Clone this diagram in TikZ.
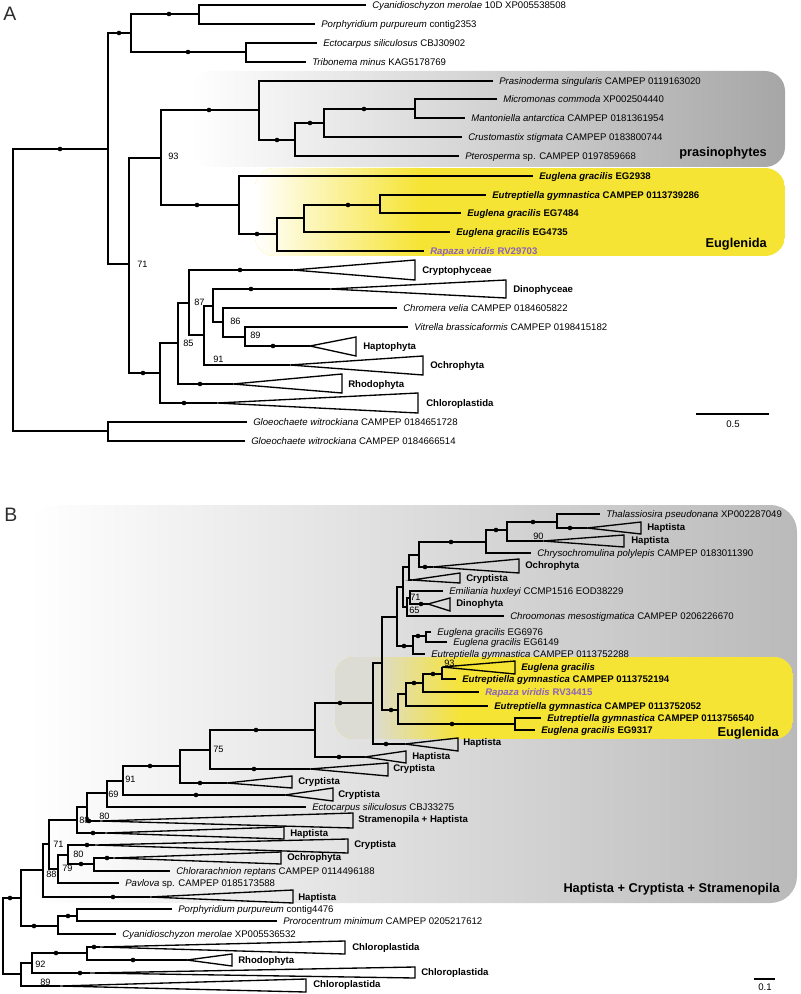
\documentclass[tikz,border=0pt]{standalone}
\usepackage{fontspec}
\setmainfont{Liberation Sans}
\definecolor{yel}{RGB}{246,228,52}
\definecolor{grA}{RGB}{166,166,166}
\definecolor{grB}{RGB}{186,186,186}
\definecolor{bgmix}{RGB}{220,219,212}
\definecolor{purp}{RGB}{138,96,192}
\definecolor{pl}{RGB}{45,45,45}
\newcommand\fsT{\fontsize{7.2}{8}\selectfont}
\newcommand\fsS{\fontsize{6.9}{8}\selectfont}
\newcommand\fsL{\fontsize{9.6}{11}\selectfont\bfseries}
\newcommand\Cl[5]{\draw[br] (#4,#2) -| (#1,#3) -- (#5,#3);}
\newcommand\Dt[2]{\fill (#1,#2) circle (2.3);}
\newcommand\Tr[5]{\draw[br,line join=miter] (#1,#2) -- (#3,#4) -- (#3,#5) -- cycle;}
\newcommand\Lf[3]{\node[lab] at (#1,{#2+3.4}) {#3};}
\newcommand\Gl[3]{\node[glab] at (#1,{#2+3.4}) {#3};}
\newcommand\Sv[3]{\node[sup] at (#1,#2) {#3};}
\newcommand\Eb[1]{\textbf{#1}}
\begin{document}
\begin{tikzpicture}[x=0.75pt,y=-0.75pt,
  br/.style={line width=1pt},
  lab/.style={anchor=base west,inner sep=0pt,font=\fsT},
  glab/.style={anchor=base west,inner sep=0pt,font=\fsT\bfseries},
  sup/.style={anchor=base west,inner sep=0pt,font=\fsS},
  big/.style={anchor=base east,inner sep=0pt,font=\fsL}]
\useasboundingbox (0,0) rectangle (800,994);
% ---------------- Panel A backgrounds
\shade[left color=white,right color=grA,rounded corners=15] (190,71) rectangle (785,167);
\begin{scope}
\clip[rounded corners=15] (255,168) rectangle (785,256);
\fill[yel] (255,168) rectangle (785,256);
\shade[left color=white,right color=yel] (255,168) rectangle (420,256);
\end{scope}
\node[anchor=base west,inner sep=0pt,font=\fontsize{14.6}{16}\selectfont,text=pl] (labA) at (3,21) {A};
% ---------------- Panel A tree
\Cl{13}{149}{431}{108}{108}\Dt{60}{149}
\Cl{108}{33}{264}{131}{129}\Dt{119}{33}\Sv{137}{268}{71}
\Cl{131}{14}{52}{199}{246}\Dt{169}{14}\Dt{188}{52}
\Cl{199}{5}{24}{366}{315}
\Lf{372}{5}{\textit{Cyanidioschyzon merolae} 10D XP005538508}
\Lf{321}{24}{\textit{Porphyridium purpureum} contig2353}
\Cl{246}{43}{62}{317}{306}
\Lf{323}{43}{\textit{Ectocarpus siliculosus} CBJ30902}
\Lf{312}{62}{\textit{Tribonema minus} KAG5178769}
\Cl{129}{158}{373}{161}{160}\Dt{143}{373}
\Cl{161}{110}{205}{259}{239}\Dt{209}{110}\Dt{197}{205}\Sv{168}{160}{93}
\Cl{259}{81}{140}{493}{295}\Dt{277}{140}
\Lf{499}{81}{\textit{Prasinoderma singularis} CAMPEP 0119163020}
\Cl{295}{123}{156}{324}{459}\Dt{310}{123}
\Lf{465}{156}{\textit{Pterosperma} sp. CAMPEP 0197859668}
\Cl{324}{109}{137}{415}{462}\Dt{364}{109}
\Lf{468}{137}{\textit{Crustomastix stigmata} CAMPEP 0183800744}
\Cl{415}{99}{118}{497}{465}
\Lf{503}{99}{\textit{Micromonas commoda} XP002504440}
\Lf{471}{118}{\textit{Mantoniella antarctica} CAMPEP 0181361954}
\node[big] (prasA) at (767,157) {prasinophytes};
\Cl{239}{176}{234}{533}{277}\Dt{257}{234}
\Lf{539}{176}{\Eb{\textit{Euglena gracilis} EG2938}}
\Cl{277}{218}{251}{304}{424}
\Lf{430}{251}{\textcolor{purp}{\Eb{\textit{Rapaza viridis} RV29703}}}
\Cl{304}{205}{232}{380}{450}\Dt{348}{205}
\Lf{456}{232}{\Eb{\textit{Euglena gracilis} EG4735}}
\Cl{380}{195}{213}{486}{461}
\Lf{492}{195}{\Eb{\textit{Eutreptiella gymnastica} CAMPEP 0113739286}}
\Lf{467}{213}{\Eb{\textit{Euglena gracilis} EG7484}}
\node[big] (eugA) at (767,248) {Euglenida};
\Cl{160}{343}{403}{178}{217}\Dt{184}{403}\Tr{217}{403}{418}{393}{413}\Gl{426}{403}{Chloroplastida}
\Cl{178}{303}{384}{189}{233}\Dt{200}{384}\Tr{233}{384}{342}{374}{393}\Gl{348}{384}{Rhodophyta}\Sv{183}{346.5}{85}
\Cl{189}{270}{335}{293}{204}\Dt{240}{270}\Tr{293}{270}{415}{260}{280}\Gl{422}{270}{Cryptophyceae}\Sv{194}{305.5}{87}
\Cl{204}{306}{365}{213}{290}\Tr{290}{365}{423}{356}{375}\Gl{430}{365}{Ochrophyta}\Sv{213}{363}{91}
\Cl{213}{289}{322}{330}{223}\Dt{251}{289}\Tr{330}{289}{506}{280}{298}\Gl{513}{289}{Dinophyceae}
\Cl{223}{308}{337}{397}{245}\Sv{230}{325}{86}
\Lf{403}{308}{\textit{Chromera velia} CAMPEP 0184605822}
\Cl{245}{327}{346}{408}{310}\Sv{250}{339}{89}
\Lf{414}{327}{\textit{Vitrella brassicaformis} CAMPEP 0198415182}
\Dt{273}{346}\Tr{310}{346}{356}{337}{356}\Gl{363}{346}{Haptophyta}
\Cl{108}{422}{441}{247}{245}
\Lf{253}{422}{\textit{Gloeochaete witrockiana} CAMPEP 0184651728}
\Lf{251}{441}{\textit{Gloeochaete witrockiana} CAMPEP 0184666514}
\draw[br] (696,414) -- (769,414);
\node[anchor=base,inner sep=0pt,font=\fsT] (scA) at (733,427) {0.5};
% ---------------- Panel B backgrounds
\shade[left color=white,right color=grB,rounded corners=20] (30,505) rectangle (797,903);
\begin{scope}
\clip[rounded corners=14] (335,657) rectangle (793,739);
\fill[yel] (335,657) rectangle (793,739);
\fill[bgmix] (335,657) rectangle (372,739);
\shade[left color=bgmix,right color=yel] (371,657) rectangle (462,739);
\end{scope}
\node[anchor=base west,inner sep=0pt,font=\fontsize{14.6}{16}\selectfont,text=pl] (labB) at (4,521) {B};
\node[big] (eugB) at (779,736) {Euglenida};
\node[big] (hcs) at (780,892) {Haptista + Cryptista + Stramenopila};
% ---------------- Panel B tree
\Cl{3}{898}{974}{21}{21}\Dt{10}{898}
\Cl{21}{870}{926}{43}{58}\Dt{34}{926}
\Cl{43}{844}{897}{49}{150}\Dt{113}{897}\Tr{150}{897}{293}{890}{903}\Gl{298}{897}{Haptista}
\Cl{49}{820}{869}{77}{58}\Sv{53}{847}{71}\Sv{46}{877}{88}
\Cl{77}{807}{833}{87}{105}\Dt{93}{833}\Tr{105}{833}{284}{827}{839}\Gl{290}{833}{Haptista}\Sv{79}{823}{88}
\Cl{87}{793}{821}{107}{100}\Dt{89}{821}\Tr{100}{821}{353}{813}{828}\Gl{358}{819}{Stramenopila + Haptista}\Sv{99}{819}{80}
\Cl{107}{781}{807}{123}{306}\Sv{108}{797}{69}
\Lf{312}{807}{\textit{Ectocarpus siliculosus} CBJ33275}
\Cl{123}{766}{795}{180}{285}\Dt{150}{766}\Dt{196}{795}\Tr{285}{795}{333}{788}{801}\Gl{338}{794}{Cryptista}\Sv{125}{782}{91}
\Cl{180}{750}{783}{210}{227}\Dt{200}{783}\Tr{227}{783}{292}{776}{788}\Gl{298}{781}{Cryptista}
\Cl{210}{730}{769}{315}{310}\Dt{256}{730}\Dt{254}{769}\Tr{310}{769}{388}{763}{776}\Gl{393}{768}{Cryptista}\Sv{213}{752}{75}
\Cl{315}{703}{757}{373}{365}\Dt{340}{703}\Dt{339}{757}\Tr{365}{757}{406}{751}{763}\Gl{412}{756}{Haptista}
\Cl{373}{663}{744}{382}{405}\Dt{386}{744}\Tr{405}{744}{458}{738}{751}\Gl{463}{742}{Haptista}
\Cl{382}{617}{710}{397}{398}\Dt{391}{710}
\Cl{397}{587}{646}{403}{413}\Dt{404}{646}
\Cl{403}{567}{607}{409}{407}
\Cl{409}{555}{580}{419}{412}\Tr{412}{580}{460}{573}{583}\Gl{466}{578}{Cryptista}
\Cl{419}{542}{567}{486}{433}\Dt{451}{542}\Dt{425}{567}\Tr{433}{567}{519}{559}{573}\Gl{525}{565}{Ochrophyta}
\Cl{486}{530}{553}{507}{531}\Dt{496}{530}
\Lf{537}{553}{\textit{Chrysochromulina polylepis} CAMPEP 0183011390}
\Cl{507}{522}{541}{557}{543}\Dt{533}{522}\Tr{543}{541}{624}{535}{547}\Gl{631}{540}{Haptista}\Sv{533}{539}{90}
\Cl{557}{514}{528}{600}{587}\Dt{570}{528}\Tr{587}{528}{641}{522}{534}\Gl{647}{527}{Haptista}
\Lf{606}{514}{\textit{Thalassiosira pseudonana} XP002287049}
\Cl{407}{598}{616}{410}{504}\Sv{409}{613}{65}
\Lf{510}{616}{\textit{Chroomonas mesostigmatica} CAMPEP 0206226670}
\Cl{410}{591}{604}{443}{428}\Dt{421}{604}\Tr{428}{604}{450}{598}{611}\Gl{456}{603}{Dinophyta}\Sv{410}{600.5}{71}
\Lf{449}{591}{\textit{Emiliania huxleyi} CCMP1516 EOD38229}
\Cl{413}{636}{654}{426}{425}\Dt{418}{636}
\Lf{431}{654}{\textit{Eutreptiella gymnastica} CAMPEP 0113752288}
\Cl{426}{632}{642}{431}{447}
\Lf{437}{632}{\textit{Euglena gracilis} EG6976}
\Lf{453}{642}{\textit{Euglena gracilis} EG6149}
\Cl{398}{694}{724}{406}{515}\Dt{452}{724}
\Cl{406}{683}{706}{423}{488}\Dt{414}{683}
\Lf{494}{706}{\Eb{\textit{Eutreptiella gymnastica} CAMPEP 0113752052}}
\Cl{423}{674}{692}{442}{479}\Dt{433}{674}
\Lf{485}{692}{\textcolor{purp}{\Eb{\textit{Rapaza viridis} RV34415}}}
\Cl{442}{667}{679}{442}{456}\Tr{442}{667}{515}{661}{674}\Sv{444}{666}{93}
\Gl{521}{667}{\textit{Euglena gracilis}}
\Lf{462}{679}{\Eb{\textit{Eutreptiella gymnastica} CAMPEP 0113752194}}
\Cl{515}{718}{730}{541}{535}
\Lf{547}{718}{\Eb{\textit{Eutreptiella gymnastica} CAMPEP 0113756540}}
\Lf{541}{730}{\Eb{\textit{Euglena gracilis} EG9317}}
% lower part
\Cl{58}{855}{883}{68}{119}\Sv{62}{871}{79}
\Lf{125}{883}{\textit{Pavlova} sp. CAMPEP 0185173588}
\Cl{68}{845}{864}{95}{94}\Dt{87}{845}\Dt{81}{864}\Tr{95}{845}{348}{839}{853}\Gl{354}{844}{Cryptista}\Sv{73}{857}{80}
\Cl{94}{858}{871}{113}{170}\Dt{107}{858}\Tr{113}{858}{281}{852}{864}\Gl{287}{857}{Ochrophyta}
\Lf{176}{871}{\textit{Chlorarachnion reptans} CAMPEP 0114496188}
\Cl{58}{916}{934}{77}{116}\Dt{68}{916}
\Lf{122}{934}{\textit{Cyanidioschyzon merolae} XP005536532}
\Cl{77}{909}{921}{172}{277}
\Lf{178}{909}{\textit{Porphyridium purpureum} contig4476}
\Lf{283}{921}{\textit{Prorocentrum minimum} CAMPEP 0205217612}
\Cl{21}{963}{986}{32}{60}\Tr{60}{986}{306}{979}{992}\Gl{313}{984}{Chloroplastida}\Sv{40}{985}{89}
\Cl{32}{953}{973}{87}{90}\Dt{56}{953}\Dt{80}{973}\Tr{90}{973}{415}{967}{978}\Gl{421}{972}{Chloroplastida}\Sv{35}{967}{92}
\Cl{87}{947}{960}{100}{187}\Dt{94}{947}\Dt{133}{960}\Tr{100}{947}{345}{941}{954}\Gl{352}{947}{Chloroplastida}
\Tr{187}{960}{232}{954}{966}\Gl{238}{960}{Rhodophyta}
\draw[br] (754,979) -- (775,979);
\node[anchor=base,inner sep=0pt,font=\fsT] (scB) at (765,990) {0.1};
\end{tikzpicture}
\end{document}
